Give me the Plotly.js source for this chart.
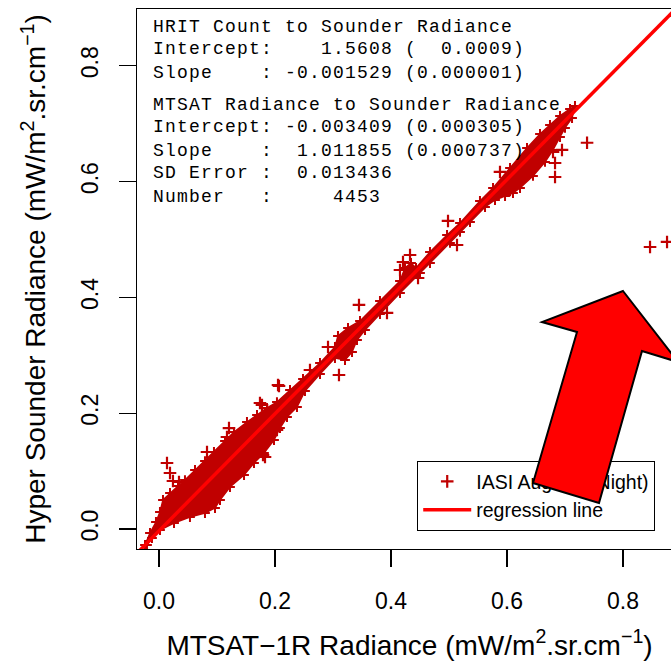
<!DOCTYPE html>
<html>
<head>
<meta charset="utf-8">
<script src="https://cdn.plot.ly/plotly-3.0.1.min.js"></script>
<style>
  html, body { margin: 0; padding: 0; overflow: hidden; background: #fff; width: 671px; height: 665px; }
  #wrap { position: relative; width: 671px; height: 665px; overflow: hidden; }
  #chart { position: absolute; left: 0; top: 0; width: 700px; height: 665px; }
  #arrow { position: absolute; left: 0; top: 0; pointer-events: none; }
  .annotation-text { letter-spacing: 1.2px; white-space: pre; }
</style>
</head>
<body>
<div id="wrap">
  <div id="chart"></div>
  <svg id="arrow" width="671" height="665">
    <polygon points="623,291 678,362 642,351 599,503 533,483 577,332 542,322"
             fill="#ff0000" stroke="#000" stroke-width="2" stroke-linejoin="miter"/>
  </svg>
</div>
<script>
// ---- dense cloud outline ----
const cloudX = [-0.0241,-0.0155,-0.0052,0.0017,0.0069,0.0190,0.0328,0.0448,0.0621,0.0793,0.0948,0.1138,0.1293,0.1517,0.1690,0.1862,0.2034,0.2259,0.2483,0.2776,0.3034,0.3086,0.3259,0.3466,0.3810,0.4155,0.4241,0.4345,0.4431,0.4672,0.4966,0.5190,0.5534,0.5759,0.6052,0.6345,0.6569,0.6741,0.6914,0.7086,0.7172,
  0.7121,0.7000,0.6914,0.6793,0.6655,0.6448,0.6224,0.6103,0.5966,0.5793,0.5621,0.5362,0.5190,0.5017,0.4672,0.4500,0.4155,0.3810,0.3552,0.3414,0.3328,0.3207,0.3034,0.2776,0.2517,0.2379,0.2207,0.2086,0.1983,0.1810,0.1638,0.1466,0.1224,0.1052,0.0966,0.0793,0.0534,0.0259,0.0017,-0.0121,-0.0207];
const cloudY = [-0.0276,-0.0069,0.0121,0.0294,0.0501,0.0622,0.0743,0.0846,0.1019,0.1174,0.1330,0.1520,0.1675,0.1848,0.1969,0.2090,0.2193,0.2401,0.2591,0.2867,0.3143,0.3333,0.3472,0.3592,0.3938,0.4283,0.4508,0.4594,0.4508,0.4784,0.5078,0.5285,0.5665,0.5889,0.6235,0.6580,0.6822,0.6978,0.7133,0.7254,0.7306,
  0.7098,0.6926,0.6770,0.6546,0.6339,0.6097,0.5889,0.5803,0.5751,0.5682,0.5561,0.5302,0.5130,0.4940,0.4594,0.4421,0.4076,0.3713,0.3437,0.3264,0.3057,0.2919,0.2953,0.2677,0.2383,0.2107,0.1934,0.1744,0.1537,0.1313,0.1140,0.0933,0.0725,0.0501,0.0363,0.0276,0.0207,0.0104,-0.0017,-0.0155,-0.0276];

// ---- scattered individual points ----
const ptsX = [0.0138,0.0190,0.0241,0.0345,0.0828,0.1207,0.1172,0.1741,0.2052,0.1828,0.2034,0.1914,0.1793,0.2069,0.1776,0.2603,0.3103,0.2914,0.3448,0.3931,0.4983,0.4328,0.4207,0.4155,0.4466,0.5138,0.6828,0.6828,0.6948,0.6793,0.6052,0.5879,0.7380,0.8466,0.8759];
const ptsY = [0.1140,0.0967,0.0829,0.0812,0.1330,0.1744,0.1589,0.2176,0.2487,0.1244,0.1710,0.1623,0.1278,0.2470,0.2142,0.2746,0.2660,0.3143,0.3869,0.3731,0.5320,0.4732,0.4611,0.4473,0.4335,0.4905,0.6321,0.6079,0.6546,0.6511,0.5855,0.6166,0.6670,0.4870,0.4957];

// ---- regression line end points ----
const regX = [-0.05, 0.95];
const regY = [-0.0540, 0.9578];

// ---- labels ----
const legendNames = ["IASI Aug. 08 (Night)", "regression line"];
const xTitle = "MTSAT\u22121R Radiance (mW/m<sup>2</sup>.sr.cm<sup>\u22121</sup>)";
const yTitle = "Hyper Sounder Radiance (mW/m<sup>2</sup>.sr.cm<sup>\u22121</sup>)";
const tickVals = [0, 0.2, 0.4, 0.6, 0.8];
const tickText = ["0.0", "0.2", "0.4", "0.6", "0.8"];
const statsLines = [
  "HRIT Count to Sounder Radiance",
  "Intercept:    1.5608 (  0.0009)",
  "Slope    : -0.001529 (0.000001)",
  "MTSAT Radiance to Sounder Radiance",
  "Intercept: -0.003409 (0.000305)",
  "Slope    :  1.011855 (0.000737)",
  "SD Error :  0.013436",
  "Number   :     4453"
];
// vertical centres of the text lines, as fractions of the plot height
const statsPos = [0.9665, 0.9258, 0.8813, 0.8221, 0.7813, 0.7369, 0.6961, 0.6517];

const ptColor = "#c00000";

const traces = [
  {
    x: cloudX, y: cloudY, type: "scatter", mode: "lines+markers",
    fill: "toself", fillcolor: ptColor,
    line: {color: ptColor, width: 1.5},
    marker: {symbol: "cross-thin", size: 7, color: ptColor, line: {color: ptColor, width: 2}},
    showlegend: false, hoverinfo: "skip"
  },
  {
    x: ptsX, y: ptsY, type: "scatter", mode: "markers", name: legendNames[0],
    marker: {symbol: "cross-thin", size: 9, color: ptColor, line: {color: ptColor, width: 2.2}},
    cliponaxis: true
  },
  {
    x: regX, y: regY, type: "scatter", mode: "lines", name: legendNames[1],
    line: {color: "#ff0000", width: 3.5}
  }
];

const monoFont = {family: "Courier New, Liberation Mono, monospace", size: 18, color: "#000"};

const layout = {
  width: 700, height: 665,
  margin: {l: 137, r: 18, t: 9, b: 116},
  paper_bgcolor: "#fff", plot_bgcolor: "#fff",
  font: {family: "Liberation Sans, Arial, sans-serif", color: "#000"},
  xaxis: {
    range: [-0.0379, 0.9017], showgrid: false, zeroline: false,
    showline: true, mirror: true, linecolor: "#000", linewidth: 1.2,
    ticks: "outside", ticklen: 17, tickwidth: 1.2, tickcolor: "#000",
    tickvals: tickVals, ticktext: tickText,
    tickfont: {size: 23, family: "Liberation Sans, Arial, sans-serif"},
    ticklabelstandoff: 14,
    title: {text: xTitle, font: {size: 28}, standoff: 22}
  },
  yaxis: {
    range: [-0.0345, 0.898], showgrid: false, zeroline: false,
    showline: true, mirror: true, linecolor: "#000", linewidth: 1.2,
    ticks: "outside", ticklen: 17, tickwidth: 1.2, tickcolor: "#000",
    tickvals: tickVals, ticktext: tickText, tickangle: -90,
    tickfont: {size: 23, family: "Liberation Sans, Arial, sans-serif"},
    ticklabelstandoff: 12,
    title: {text: yTitle, font: {size: 28}, standoff: 22}
  },
  showlegend: true,
  legend: {
    x: 0.5138, y: 0.163, xanchor: "left", yanchor: "top",
    bordercolor: "#000", borderwidth: 1.2, bgcolor: "#fff",
    font: {size: 19.5, family: "Liberation Sans, Arial, sans-serif", color: "#000"},
    itemwidth: 48
  },
  annotations: statsLines.map((t, i) => ({
    xref: "paper", yref: "paper", x: 0.025, y: statsPos[i],
    xanchor: "left", yanchor: "middle",
    text: t, showarrow: false, align: "left", font: monoFont
  }))
};

Plotly.newPlot("chart", traces, layout, {staticPlot: true, displayModeBar: false});
</script>
</body>
</html>
